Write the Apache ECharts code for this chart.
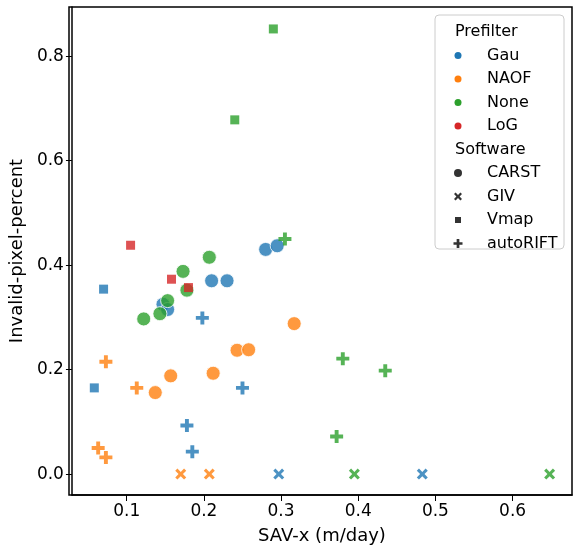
<!DOCTYPE html>
<html>
<head>
<meta charset="UTF-8">
<script src="https://cdn.jsdelivr.net/npm/echarts@6/dist/echarts.min.js"></script>
<style>body{margin:0}#c{width:578px;height:552px}</style>
</head>
<body>
<div id="c"></div>
<script>
var prefilters = ['Gau', 'NAOF', 'None', 'LoG'];
var softwares = ['CARST', 'GIV', 'Vmap', 'autoRIFT'];
var colors = ['#1f77b4', '#ff7f0e', '#2ca02c', '#d62728'];

// [x, y, prefilter]
var carst = [
    [0.147,0.325,'Gau'],[0.153,0.315,'Gau'],[0.210,0.370,'Gau'],[0.230,0.370,'Gau'],[0.280,0.430,'Gau'],[0.295,0.437,'Gau'],
    [0.122,0.297,'None'],[0.143,0.307,'None'],[0.153,0.332,'None'],[0.173,0.388,'None'],[0.178,0.352,'None'],[0.207,0.415,'None'],
    [0.137,0.156,'NAOF'],[0.157,0.188,'NAOF'],[0.212,0.193,'NAOF'],[0.243,0.237,'NAOF'],[0.258,0.238,'NAOF'],[0.317,0.288,'NAOF']
];
var giv = [
    [0.170,0.0,'NAOF'],[0.207,0.0,'NAOF'],[0.297,0.0,'Gau'],[0.483,0.0,'Gau'],[0.395,0.0,'None'],[0.648,0.0,'None']
];
var vmap = [
    [0.290,0.852,'None'],[0.240,0.678,'None'],[0.105,0.438,'LoG'],[0.158,0.373,'LoG'],[0.180,0.357,'LoG'],
    [0.070,0.354,'Gau'],[0.058,0.165,'Gau']
];
var autorift = [
    [0.305,0.450,'None'],[0.380,0.221,'None'],[0.435,0.198,'None'],[0.372,0.072,'None'],
    [0.198,0.299,'Gau'],[0.250,0.165,'Gau'],[0.178,0.093,'Gau'],[0.185,0.043,'Gau'],
    [0.073,0.215,'NAOF'],[0.113,0.165,'NAOF'],[0.063,0.050,'NAOF'],[0.073,0.032,'NAOF']
];
var bySoftware = {CARST: carst, GIV: giv, Vmap: vmap, autoRIFT: autorift};

var xPts = [[2,0],[5,3],[8,0],[10,2],[7,5],[10,8],[8,10],[5,7],[2,10],[0,8],[3,5],[0,2]];
var plusPts = [[3.5,0],[6.5,0],[6.5,3.5],[10,3.5],[10,6.5],[6.5,6.5],[6.5,10],[3.5,10],[3.5,6.5],[0,6.5],[0,3.5],[3.5,3.5]];
function toPath(pts) {
    return 'path://M' + pts.map(function (p) { return p[0] + ',' + p[1]; }).join(' L') + ' Z';
}
var symbols = {CARST: ['circle', 14], GIV: [toPath(xPts), 11], Vmap: ['rect', 9], autoRIFT: [toPath(plusPts), 13]};

var series = [];
softwares.forEach(function (sw) {
    prefilters.forEach(function (pf, i) {
        var pts = bySoftware[sw].filter(function (p) { return p[2] === pf; });
        if (!pts.length) return;
        series.push({
            type: 'scatter',
            data: pts.map(function (p) { return [p[0], p[1]]; }),
            symbol: symbols[sw][0],
            symbolSize: symbols[sw][1],
            itemStyle: {color: colors[i], borderColor: '#fff', borderWidth: sw === 'CARST' ? 1 : 0}
        });
    });
});

// legend drawn as graphic elements (seaborn style with headings)
var lg = [];
var lx = 435, ly = 15, row = 23.5;
var font = '16px DejaVu Sans';
lg.push({type: 'rect', shape: {x: lx, y: ly, width: 129, height: 234, r: 4}, style: {fill: 'rgba(255,255,255,0.8)', stroke: '#ccc', lineWidth: 1}});
var items = [['h', 'Prefilter']];
prefilters.forEach(function (p, i) { items.push(['c', p, colors[i]]); });
items.push(['h', 'Software']);
softwares.forEach(function (s) { items.push(['s', s]); });
function scaled(pts, x0, y0, s) {
    return pts.map(function (p) { return [x0 + p[0] * s, y0 + p[1] * s]; });
}
items.forEach(function (it, k) {
    var y = ly + 17 + k * row;
    if (it[0] === 'h') {
        lg.push({type: 'text', x: lx + 20, y: y, style: {text: it[1], font: font, fill: '#000', verticalAlign: 'middle'}});
        return;
    }
    if (it[0] === 'c') {
        lg.push({type: 'circle', shape: {cx: lx + 23, cy: y, r: 3.5}, style: {fill: it[2]}});
    } else if (it[1] === 'CARST') {
        lg.push({type: 'circle', shape: {cx: lx + 23, cy: y, r: 4}, style: {fill: '#333'}});
    } else if (it[1] === 'Vmap') {
        lg.push({type: 'rect', shape: {x: lx + 20, y: y - 3, width: 6, height: 6}, style: {fill: '#333'}});
    } else if (it[1] === 'GIV') {
        lg.push({type: 'polygon', shape: {points: scaled(xPts, lx + 19, y - 4, 0.8)}, style: {fill: '#333'}});
    } else {
        lg.push({type: 'polygon', shape: {points: scaled(plusPts, lx + 18.5, y - 4.5, 0.9)}, style: {fill: '#333'}});
    }
    lg.push({type: 'text', x: lx + 52, y: y, style: {text: it[1], font: font, fill: '#000', verticalAlign: 'middle'}});
});

var ticksX = [0.1, 0.2, 0.3, 0.4, 0.5, 0.6];
var ticksY = [0, 0.2, 0.4, 0.6, 0.8];

var chart = echarts.init(document.getElementById('c'));
chart.setOption({
    animation: false,
    grid: {left: 69, right: 6, top: 7, bottom: 57},
    xAxis: {
        type: 'value', min: 0.029, max: 0.677,
        name: 'SAV-x (m/day)', nameLocation: 'middle', nameGap: 32,
        nameTextStyle: {fontSize: 18, fontFamily: 'DejaVu Sans', color: '#000'},
        axisLine: {onZero: false, lineStyle: {color: '#000', width: 1.5}},
        axisTick: {show: true, length: 6, lineStyle: {color: '#000'}, customValues: ticksX},
        axisLabel: {fontSize: 17, fontFamily: 'DejaVu Sans', color: '#000',
            customValues: ticksX, formatter: function (v) { return v.toFixed(1); }},
        splitLine: {show: false}
    },
    yAxis: {
        type: 'value', min: -0.04, max: 0.894,
        name: 'Invalid-pixel-percent', nameLocation: 'middle', nameGap: 44,
        nameTextStyle: {fontSize: 18, fontFamily: 'DejaVu Sans', color: '#000'},
        axisLine: {show: true, onZero: false, lineStyle: {color: '#000', width: 1.5}},
        axisTick: {show: true, length: 6, lineStyle: {color: '#000'}, customValues: ticksY},
        axisLabel: {fontSize: 17, fontFamily: 'DejaVu Sans', color: '#000',
            customValues: ticksY, formatter: function (v) { return v.toFixed(1); }},
        splitLine: {show: false}
    },
    graphic: [
        {type: 'rect', shape: {x: 69, y: 7, width: 503, height: 488}, style: {fill: 'none', stroke: '#000', lineWidth: 1.5}, silent: true}
    ].concat(lg),
    series: series
});
</script>
</body>
</html>
